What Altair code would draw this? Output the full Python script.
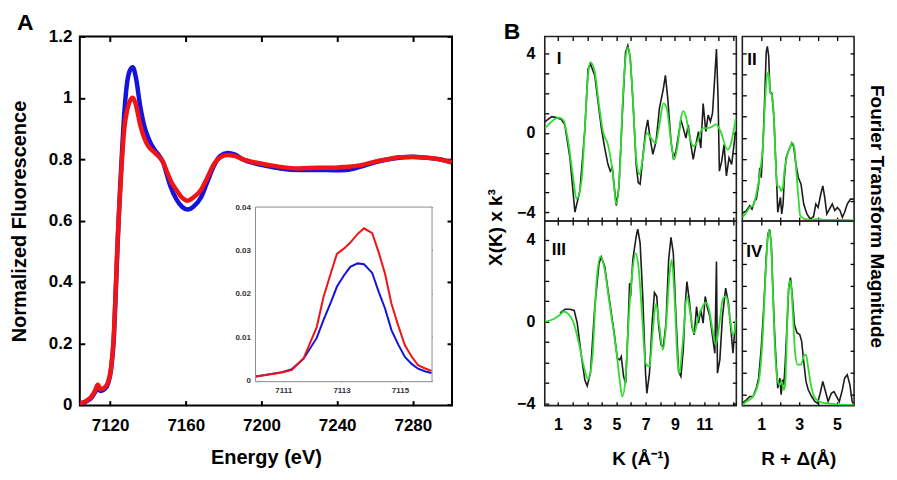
import altair as alt
import pandas as pd

FONT = "Liberation Sans"
BLUE = "#1414dc"
RED = "#f01414"
GREEN = "#2ddd2d"
BLACK = "#1c1c1c"

# ---------------- Panel A : XANES ----------------
xanes_energy = [7104, 7106, 7108, 7110, 7112, 7113.5, 7115, 7117, 7119, 7120.5, 7122, 7123, 7124,
                7125, 7126, 7127.5, 7129, 7130.5, 7132, 7133.5, 7136, 7138, 7140.5, 7143, 7145.5,
                7148, 7150, 7152, 7155, 7158, 7161, 7164, 7168, 7171, 7175, 7178, 7182, 7186, 7190,
                7196, 7203, 7210, 7220, 7230, 7238, 7245, 7252, 7260, 7267, 7273, 7280, 7287, 7294,
                7300.5]
xanes_red = [0.005, 0.008, 0.015, 0.025, 0.045, 0.065, 0.05, 0.055, 0.075, 0.12, 0.23, 0.38, 0.54,
             0.66, 0.77, 0.9, 0.96, 0.99, 1.0, 0.98, 0.91, 0.87, 0.84, 0.825, 0.81,
             0.79, 0.76, 0.73, 0.70, 0.675, 0.665, 0.675, 0.70, 0.735, 0.785, 0.805, 0.814, 0.81, 0.80,
             0.79, 0.782, 0.775, 0.77, 0.772, 0.772, 0.775, 0.78, 0.792, 0.80, 0.806, 0.807, 0.805, 0.80,
             0.79]
xanes_blue = [0.005, 0.007, 0.013, 0.022, 0.04, 0.052, 0.045, 0.05, 0.07, 0.115, 0.22, 0.37, 0.53,
              0.67, 0.79, 0.95, 1.05, 1.09, 1.10, 1.07, 0.97, 0.91, 0.865, 0.835, 0.815,
              0.79, 0.75, 0.71, 0.67, 0.645, 0.636, 0.645, 0.675, 0.72, 0.78, 0.81, 0.82, 0.815, 0.80,
              0.787, 0.778, 0.77, 0.765, 0.765, 0.764, 0.765, 0.775, 0.79, 0.80, 0.805, 0.808, 0.805, 0.80,
              0.79]
energy_ticks = [7120, 7160, 7200, 7240, 7280]
fluor_ticks = [0, 0.2, 0.4, 0.6, 0.8, 1.0, 1.2]

# inset : pre-edge
inset_energy = [7110.07, 7110.96, 7111.30, 7111.70, 7112.15, 7112.38, 7112.64, 7112.84, 7113.08,
                7113.30, 7113.55, 7113.77, 7114.05, 7114.27, 7114.49, 7114.71, 7114.94, 7115.17,
                7115.40, 7115.62, 7115.85, 7116.08]
inset_red = [0.0009, 0.0018, 0.0024, 0.0051, 0.0123, 0.0192, 0.0249, 0.0292, 0.0304,
             0.0318, 0.0338, 0.0351, 0.0340, 0.0296, 0.0246, 0.0177, 0.0127, 0.0081,
             0.0055, 0.0035, 0.0028, 0.0022]
inset_blue = [0.0009, 0.0019, 0.0026, 0.0050, 0.0098, 0.0139, 0.0181, 0.0216, 0.0242,
              0.0262, 0.0270, 0.0268, 0.0248, 0.0205, 0.0166, 0.0116, 0.0083, 0.0054,
              0.0038, 0.0027, 0.0021, 0.0017]
inset_x_ticks = [7111, 7113, 7115]
inset_y_ticks = [0, 0.01, 0.02, 0.03, 0.04]

# ---------------- Panel B : EXAFS ----------------
k1_data_k = [0.12, 0.57, 0.91, 1.25, 1.47, 1.82, 2.16, 2.50, 2.83, 3.06, 3.22, 3.52, 3.74, 3.97, 4.20,
             4.42, 4.58, 4.72, 4.88, 4.99, 5.17, 5.40, 5.62, 5.78, 5.94, 6.12, 6.35, 6.49, 6.62, 6.80,
             6.99, 7.14, 7.30, 7.49, 7.71, 7.94, 8.21, 8.35, 8.51, 8.73, 8.89, 9.07, 9.25, 9.41, 9.57,
             9.75, 9.91, 10.09, 10.25, 10.43, 10.61, 10.77, 10.93, 11.11, 11.27, 11.43, 11.57, 11.73,
             11.84, 11.95, 12.04, 12.20, 12.36, 12.52, 12.70, 12.88, 13.04, 13.15]
k1_data_chi = [0.57, 0.82, 0.77, 0.66, 0.41, -1.25, -3.98, -2.91, 0.07, 3.22, 3.47, 2.89, 1.57, 0.24, -0.76,
               -1.58, -1.92, -1.75, -2.91, -3.65, -2.74, 0.90, 4.05, 4.39, 3.81, 1.73, -1.58, -2.50, -2.58, -1.25,
               0.07, 0.66, -0.26, -1.08, -0.42, 1.24, 2.23, 2.89, 1.73, -0.42, -1.25, -0.92, -0.09, 0.66, 0.24,
               -0.26, 0.41, -0.59, -1.33, -0.59, 0.07, -0.76, 1.48, 0.07, 0.90, 0.57, 0.99, 2.89,
               4.22, 1.73, -1.92, -1.42, -0.59, -2.16, -1.25, -1.58, -0.59, 0.07]
k1_fit_k = [0.12, 0.57, 1.02, 1.36, 1.70, 2.04, 2.27, 2.61, 2.83, 3.06, 3.22, 3.52, 3.81, 4.08, 4.42,
            4.76, 4.99, 5.22, 5.44, 5.62, 5.78, 5.94, 6.12, 6.35, 6.58, 6.80, 7.08, 7.37, 7.67, 7.94,
            8.21, 8.44, 8.73, 8.96, 9.19, 9.41, 9.57, 9.75, 9.98, 10.25, 10.55, 10.89, 11.23, 11.57,
            11.79, 12.13, 12.59, 12.81, 13.15]
k1_fit_chi = [0.24, 0.57, 0.77, 0.66, -0.42, -2.25, -3.32, -2.41, 0.07, 2.89, 3.56, 3.06, 1.40, 0.07, -0.59,
              -2.08, -3.57, -2.08, 1.73, 3.72, 4.30, 3.72, 1.73, -1.25, -2.08, -1.25, 0.0, -0.26, -0.51, 0.41,
              1.48, 1.24, -0.42, -1.33, -0.59, 0.74, 1.10, 0.82, -0.09, -0.67, -0.42, 0.24, 0.24, 0.32,
              0.44, 0.07, -0.84, -0.59, 0.70]

k3_data_k = [1.14, 1.48, 1.82, 2.11, 2.32, 2.61, 2.84, 3.00, 3.22, 3.52, 3.81, 3.97, 4.20, 4.42, 4.65,
             4.88, 5.06, 5.22, 5.33, 5.49, 5.63, 5.78, 5.90, 5.97, 6.12, 6.35, 6.46, 6.62, 6.80, 6.99,
             7.08, 7.26, 7.44, 7.60, 7.76, 7.89, 8.05, 8.21, 8.39, 8.57, 8.73, 8.89, 9.07, 9.25, 9.41,
             9.57, 9.71, 9.82, 9.98, 10.16, 10.32, 10.48, 10.61, 10.77, 10.93, 11.07, 11.23, 11.39, 11.57,
             11.73, 11.84, 11.91, 12.07, 12.25, 12.47, 12.66, 12.81, 12.97, 13.11, 13.20]
k3_data_chi = [0.41, 0.60, 0.60, 0.54, -0.08, -1.71, -2.85, -3.14, -2.52, 0.73, 2.85, 3.14, 2.68, 1.54, 0.41,
               -0.73, -1.79, -1.87, -1.71, -2.68, -3.01, -0.57, 1.87, 1.22, 3.01, 4.15, 4.50, 3.82, 1.22, -2.52,
               -3.50, -2.52, -0.08, 1.41, 1.22, -0.24, -1.14, -1.22, -0.08, 3.01, 4.11, 3.33, 0.24, -2.44, -2.68,
               -1.38, 0.89, 1.95, 1.06, -0.24, -0.65, 0.73, -0.08, 0.57, -0.08, 1.22, 0.65, 0.24, -0.73,
               -1.54, 2.93, -2.52, -1.87, 0.24, 1.63, 0.89, -0.24, -1.54, -0.24, 0.08]
k3_fit_k = [0.12, 0.68, 1.14, 1.41, 1.70, 2.04, 2.38, 2.72, 3.06, 3.36, 3.63, 3.90, 4.20, 4.49, 4.76,
            5.04, 5.22, 5.40, 5.63, 5.85, 6.08, 6.31, 6.53, 6.76, 6.99, 7.26, 7.49, 7.71, 7.94, 8.17,
            8.39, 8.62, 8.78, 8.96, 9.19, 9.30, 9.53, 9.82, 10.09, 10.32, 10.61, 10.89, 11.11, 11.34,
            11.57, 11.79, 12.02, 12.29, 12.52, 12.75, 12.97, 13.20]
k3_fit_chi = [0.0, 0.11, 0.33, 0.49, 0.37, 0.0, -0.89, -2.03, -2.81, -1.71, 1.87, 3.17, 2.52, 1.06, -0.24,
              -1.71, -2.85, -3.66, -2.68, 0.24, 2.36, 3.33, 2.52, 0.24, -2.03, -2.20, -0.41, 0.86, -0.24, -1.38,
              -0.24, 2.20, 3.01, 1.38, -2.03, -2.52, -1.06, 1.22, 0.24, -0.57, 0.24, 0.73, 0.93, 0.57,
              -0.41, -1.14, -0.24, 1.14, 1.22, 0.24, -0.70, 0.16]

r2_data_r = [0.0, 0.22, 0.39, 0.51, 0.65, 0.74, 0.86, 0.92, 1.00, 1.09, 1.18, 1.26, 1.32, 1.39, 1.46,
             1.56, 1.67, 1.74, 1.81, 1.87, 1.95, 2.01, 2.08, 2.15, 2.22, 2.31, 2.43, 2.61, 2.71, 2.83,
             2.96, 3.10, 3.24, 3.41, 3.58, 3.76, 3.88, 4.00, 4.14, 4.25, 4.35, 4.46, 4.60, 4.75, 4.88,
             5.02, 5.16, 5.28, 5.40, 5.54, 5.71, 5.89]
r2_data_ft = [0.44, 0.57, 0.80, 0.64, 1.03, 1.11, 1.81, 2.59, 2.12, 3.68, 5.86, 8.04, 8.32, 7.89, 6.17,
              6.10, 4.93, 3.37, 1.97, 0.49, 0.88, 1.19, 0.41, 0.88, 2.12, 3.06, 3.37, 3.76, 3.60, 2.75,
              2.12, 1.81, 0.88, 0.41, 0.18, 0.28, 0.88, 0.72, 1.34, 1.73, 1.19, 0.41, 0.64, 0.88, 0.57,
              0.72, 0.57, 0.25, 0.49, 0.88, 1.11, 1.11]
r2_fit_r = [0.0, 0.22, 0.39, 0.57, 0.74, 0.92, 1.09, 1.21, 1.32, 1.39, 1.46, 1.56, 1.67, 1.75, 1.84,
            1.96, 2.05, 2.14, 2.22, 2.36, 2.54, 2.64, 2.75, 2.85, 2.96, 3.06, 3.27, 3.62, 3.97, 4.32,
            5.02, 5.89]
r2_fit_ft = [0.25, 0.49, 0.72, 0.80, 1.35, 2.28, 3.68, 5.86, 7.03, 7.08, 6.17, 6.02, 4.93, 3.06, 1.73,
             1.69, 1.50, 1.66, 2.43, 3.14, 3.60, 3.76, 3.52, 2.43, 1.19, 0.33, 0.18, 0.13, 0.18, 0.13,
             0.13, 0.11]

r4_data_r = [0.0, 0.22, 0.39, 0.57, 0.74, 0.86, 1.00, 1.14, 1.26, 1.35, 1.44, 1.53, 1.61, 1.70, 1.79,
             1.87, 1.98, 2.05, 2.12, 2.19, 2.26, 2.36, 2.45, 2.54, 2.63, 2.75, 2.89, 3.03, 3.13, 3.24,
             3.36, 3.48, 3.66, 3.83, 3.97, 4.11, 4.25, 4.39, 4.53, 4.70, 4.84, 4.98, 5.12, 5.28, 5.40,
             5.54, 5.68, 5.80, 5.89]
r4_data_ft = [0.58, 0.73, 0.89, 0.89, 1.28, 1.74, 3.14, 5.15, 7.32, 8.41, 8.61, 7.94, 5.93, 3.91, 2.36,
              1.28, 1.74, 0.97, 1.67, 1.43, 2.36, 4.22, 5.93, 6.39, 5.62, 4.22, 3.83, 3.76, 3.45, 2.52,
              1.59, 1.20, 0.89, 0.66, 0.58, 1.04, 1.59, 1.12, 0.66, 1.04, 1.12, 0.89, 0.66, 1.20, 1.74,
              1.90, 1.43, 0.66, 0.50]
r4_fit_r = [0.0, 0.22, 0.48, 0.74, 0.92, 1.09, 1.21, 1.32, 1.40, 1.49, 1.58, 1.67, 1.77, 1.87, 1.98,
            2.08, 2.19, 2.26, 2.33, 2.40, 2.49, 2.57, 2.68, 2.78, 2.92, 3.10, 3.24, 3.36, 3.48, 3.62,
            3.79, 4.06, 4.41, 5.02, 5.89]
r4_fit_ft = [0.50, 0.66, 0.81, 1.20, 1.90, 3.91, 6.24, 7.94, 8.56, 8.25, 6.55, 4.22, 2.36, 1.59, 1.43,
             1.59, 1.20, 1.43, 2.98, 5.15, 6.24, 6.08, 4.53, 2.98, 2.36, 2.36, 2.75, 2.83, 2.21, 1.43,
             0.89, 0.66, 0.58, 0.53, 0.50]

k_ticks = list(range(1, 14))
r_ticks = [1, 2, 3, 4, 5]
chi_ticks = [-4, -3, -2, -1, 0, 1, 2, 3, 4]
ft_ticks = [1, 2, 3, 4, 5, 6, 7, 8]

# ---------------- helpers ----------------
def sc(domain, rng=None):
    if rng is None:
        return alt.Scale(domain=domain, nice=False, zero=False)
    return alt.Scale(domain=domain, range=rng, nice=False, zero=False)


def ax(orient, values, inset=0, tick=5, width=1.5, labels=False, title=None, **kw):
    """Axis whose ticks point into the plot: it is pulled inside by the tick length."""
    opts = dict(labelFont=FONT, labelFontWeight="bold", labelColor="black",
                titleFont=FONT, titleFontWeight="bold", titleColor="black")
    opts.update(kw)
    return alt.Axis(orient=orient, values=values, offset=-(inset + tick), tickSize=tick,
                    tickWidth=width, tickColor="black", domain=False, grid=False,
                    labels=labels, title=title, **opts)


def letter(txt, dx):
    return alt.TitleParams(txt, anchor="start", frame="group", dx=dx, offset=-8,
                           fontSize=23, font=FONT, fontWeight="bold", color="black")


# ---------------- Panel A ----------------
A_W, A_H = 373, 370
E_DOM = [7104, 7300.7]
F_DOM = [-0.003, 1.2]
INS_X = [7110.05, 7116.1]
INS_Y = [-0.0003, 0.04]
INS_XR = [176, 353]
INS_YR = [346, 171]

main_df = pd.DataFrame({"energy": xanes_energy, "blue": xanes_blue, "red": xanes_red})
inset_df = pd.DataFrame({"energy": inset_energy, "blue": inset_blue, "red": inset_red})
inset_box = pd.DataFrame({"x0": [INS_X[0]], "x1": [INS_X[1]], "y0": [INS_Y[0]], "y1": [INS_Y[1]]})

blue_main = alt.Chart(main_df).mark_line(color=BLUE, strokeWidth=4.5, interpolate="monotone", clip=True).encode(
    x=alt.X("energy:Q", scale=sc(E_DOM),
            axis=ax("bottom", energy_ticks, tick=5, width=2, labels=True, format="d",
                    labelFontSize=17, labelPadding=12, title="Energy (eV)",
                    titleFontSize=20, titlePadding=14)),
    y=alt.Y("blue:Q", scale=sc(F_DOM),
            axis=ax("left", fluor_ticks, tick=5, width=2, labels=True, format=".1~f",
                    labelFontSize=17, labelPadding=8, title="Normalized Fluorescence",
                    titleFontSize=20, titlePadding=19)),
)
red_main = alt.Chart(main_df).mark_line(color=RED, strokeWidth=4.5, interpolate="monotone", clip=True).encode(
    x=alt.X("energy:Q", scale=sc(E_DOM), axis=None),
    y=alt.Y("red:Q", scale=sc(F_DOM), axis=None),
)
mirror_main = alt.Chart(main_df).mark_line(opacity=0).encode(
    x=alt.X("energy:Q", scale=sc(E_DOM), axis=ax("top", energy_ticks, tick=5, width=2)),
    y=alt.Y("red:Q", scale=sc(F_DOM), axis=ax("right", fluor_ticks, tick=5, width=2)),
)
inset_frame = alt.Chart(inset_box).mark_rect(fill="white", stroke="#8a8a8a", strokeWidth=1).encode(
    x=alt.X("x0:Q", scale=sc(INS_X, INS_XR), axis=None),
    x2="x1:Q",
    y=alt.Y("y0:Q", scale=sc(INS_Y, INS_YR), axis=None),
    y2="y1:Q",
)
inset_blue_l = alt.Chart(inset_df).mark_line(color=BLUE, strokeWidth=2).encode(
    x=alt.X("energy:Q", scale=sc(INS_X, INS_XR),
            axis=ax("bottom", inset_x_ticks, inset=A_H - INS_YR[0], tick=3, width=1, labels=True,
                    format="d", labelFontSize=8, labelPadding=5, labelColor="#333")),
    y=alt.Y("blue:Q", scale=sc(INS_Y, INS_YR),
            axis=ax("left", inset_y_ticks, inset=INS_XR[0], tick=3, width=1, labels=True,
                    format=".2~f", labelFontSize=8, labelPadding=5, labelColor="#333")),
)
inset_red_l = alt.Chart(inset_df).mark_line(color=RED, strokeWidth=2).encode(
    x=alt.X("energy:Q", scale=sc(INS_X, INS_XR), axis=None),
    y=alt.Y("red:Q", scale=sc(INS_Y, INS_YR), axis=None),
)
inset_mirror = alt.Chart(inset_df).mark_line(opacity=0).encode(
    x=alt.X("energy:Q", scale=sc(INS_X, INS_XR),
            axis=ax("top", inset_x_ticks, inset=INS_YR[1], tick=3, width=1)),
    y=alt.Y("red:Q", scale=sc(INS_Y, INS_YR),
            axis=ax("right", inset_y_ticks, inset=A_W - INS_XR[1], tick=3, width=1)),
)

panel_a = alt.layer(
    blue_main, red_main, mirror_main, inset_frame, inset_blue_l, inset_red_l, inset_mirror
).resolve_scale(x="independent", y="independent").properties(
    width=A_W, height=A_H, title=letter("A", -63),
    view=alt.ViewBackground(stroke="black", strokeWidth=2),
)

# ---------------- Panel B ----------------
BL_W, BR_W, B_H = 192, 112, 185
K_DOM = [0.1, 13.2]
R_DOM = [0.0, 5.9]
CHI1_DOM = [-4.43, 4.85]
CHI3_DOM = [-4.1, 4.9]
FT2_DOM = [0.075, 8.79]
FT4_DOM = [0.47, 9.0]

odd_k = "datum.value % 2 == 1 && datum.value < 12 ? datum.label : ''"
odd_r = "datum.value % 2 == 1 ? datum.label : ''"
chi_lab = "datum.value % 4 == 0 ? datum.label : ''"


def b_panel(dx, dy, fx, fy, xdom, ydom, xt, yt, width, numeral, npos,
            bottom_axis, left_axis, right_axis, title=None):
    d_df = pd.DataFrame({"x": dx, "y": dy})
    f_df = pd.DataFrame({"x": fx, "y": fy})
    data_l = alt.Chart(d_df).mark_line(color=BLACK, strokeWidth=1.6, clip=True).encode(
        x=alt.X("x:Q", scale=sc(xdom), axis=bottom_axis),
        y=alt.Y("y:Q", scale=sc(ydom), axis=left_axis),
    )
    fit_l = alt.Chart(f_df).mark_line(color=GREEN, strokeWidth=1.8, interpolate="monotone", clip=True).encode(
        x=alt.X("x:Q", scale=sc(xdom), axis=None),
        y=alt.Y("y:Q", scale=sc(ydom), axis=None),
    )
    mirror = alt.Chart(f_df).mark_line(opacity=0).encode(
        x=alt.X("x:Q", scale=sc(xdom), axis=ax("top", xt, tick=4, width=1.3)),
        y=alt.Y("y:Q", scale=sc(ydom), axis=right_axis),
    )
    label = alt.Chart(f_df.head(1)).mark_text(
        text=numeral, align="left", baseline="alphabetic", font=FONT, fontWeight="bold",
        fontSize=17, color="black",
    ).encode(x=alt.value(npos[0]), y=alt.value(npos[1]))
    props = dict(width=width, height=B_H, view=alt.ViewBackground(stroke="#222", strokeWidth=1.6))
    if title is not None:
        props["title"] = title
    return alt.layer(data_l, fit_l, mirror, label).resolve_scale(
        x="independent", y="independent").properties(**props)


p1 = b_panel(
    k1_data_k, k1_data_chi, k1_fit_k, k1_fit_chi, K_DOM, CHI1_DOM, k_ticks, chi_ticks, BL_W, "I", (12, 28),
    bottom_axis=ax("bottom", k_ticks, tick=4, width=1.3),
    left_axis=ax("left", chi_ticks, tick=4, width=1.3, labels=True, labelExpr=chi_lab,
                 labelFontSize=16, labelPadding=10, title="X(K) x k³", titleFontSize=19,
                 titleAngle=270, titleAlign="center", titleBaseline="middle",
                 titleX=-53, titleY=191),
    right_axis=ax("right", chi_ticks, tick=4, width=1.3),
    title=letter("B", -41),
)
p2 = b_panel(
    r2_data_r, r2_data_ft, r2_fit_r, r2_fit_ft, R_DOM, FT2_DOM, r_ticks, ft_ticks, BR_W, "II", (5, 29),
    bottom_axis=ax("bottom", r_ticks, tick=4, width=1.3),
    left_axis=ax("left", ft_ticks, tick=4, width=1.3),
    right_axis=ax("right", ft_ticks, tick=4, width=1.3, title="Fourier Transform Magnitude",
                  titleFontSize=19, titleAngle=90, titleAlign="center", titleBaseline="middle",
                  titleX=26, titleY=180),
)
p3 = b_panel(
    k3_data_k, k3_data_chi, k3_fit_k, k3_fit_chi, K_DOM, CHI3_DOM, k_ticks, chi_ticks, BL_W, "III", (7, 34),
    bottom_axis=ax("bottom", k_ticks, tick=4, width=1.3, labels=True, labelExpr=odd_k,
                   labelFontSize=16, labelPadding=11, title="K (Å⁻¹)", titleFontSize=19,
                   titlePadding=17),
    left_axis=ax("left", chi_ticks, tick=4, width=1.3, labels=True, labelExpr=chi_lab,
                 labelFontSize=16, labelPadding=10),
    right_axis=ax("right", chi_ticks, tick=4, width=1.3),
)
p4 = b_panel(
    r4_data_r, r4_data_ft, r4_fit_r, r4_fit_ft, R_DOM, FT4_DOM, r_ticks, ft_ticks, BR_W, "IV", (4, 36),
    bottom_axis=ax("bottom", r_ticks, tick=4, width=1.3, labels=True, labelExpr=odd_r,
                   labelFontSize=16, labelPadding=11, title="R + Δ(Å)", titleFontSize=19,
                   titlePadding=17),
    left_axis=ax("left", ft_ticks, tick=4, width=1.3),
    right_axis=ax("right", ft_ticks, tick=4, width=1.3),
)

panel_b = alt.concat(p1, p2, p3, p4, columns=2, spacing={"row": 0, "column": 6},
                     bounds="flush", align="each")

chart = alt.hconcat(panel_a, panel_b, spacing=32).properties(
    padding={"left": 0, "top": 3, "right": 3, "bottom": 0}
).configure(font=FONT)

chart.save("out.html", embed_options={"renderer": "svg", "actions": False})
